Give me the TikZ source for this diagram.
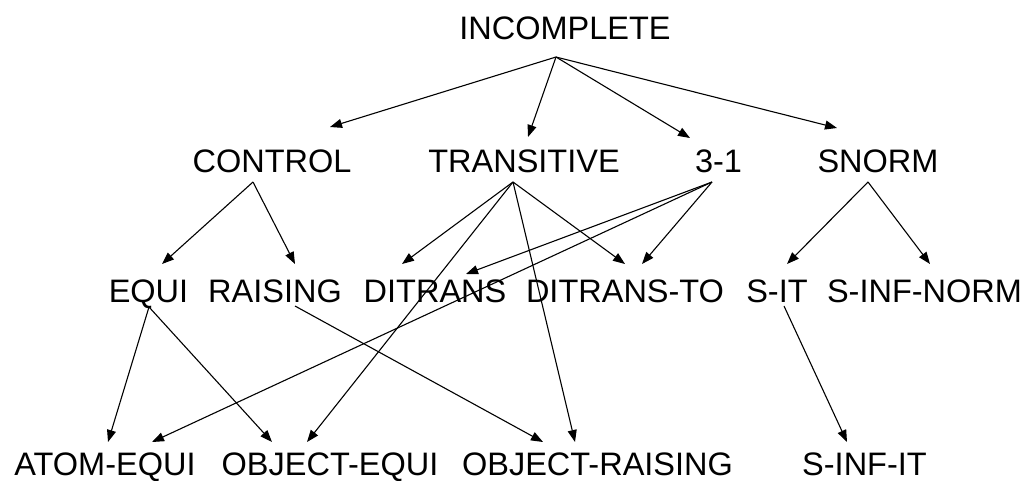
\documentclass[tikz,border=0pt]{standalone}
\usepackage{fontspec}
\setmainfont{Liberation Sans}
\usetikzlibrary{arrows.meta}
\begin{document}
\begin{tikzpicture}[x=1pt,y=-1pt,
  lbl/.style={anchor=base,inner sep=0pt,font=\fontsize{32.5}{34}\selectfont},
  arr/.style={-{Triangle[length=12pt,width=9pt]},line width=1.1pt}]
\useasboundingbox (0,0) rectangle (1027,480);
% level 1
\node[lbl] (incomplete) at (565,39) {INCOMPLETE};
% level 2
\node[lbl] (control) at (272,172) {CONTROL};
\node[lbl] (transitive) at (524,172) {TRANSITIVE};
\node[lbl] (three) at (718.5,172) {3-1};
\node[lbl] (snorm) at (878,172) {SNORM};
% level 3
\node[lbl] (equi) at (148.5,302) {EQUI};
\node[lbl] (raising) at (275,302) {RAISING};
\node[lbl] (ditrans) at (435,302) {DITRANS};
\node[lbl] (ditransto) at (625,302) {DITRANS-TO};
\node[lbl] (sit) at (777,302) {S-IT};
\node[lbl] (sinfnorm) at (924.5,302) {S-INF-NORM};
% level 4
\node[lbl] (atomequi) at (105,475) {ATOM-EQUI};
\node[lbl] (objequi) at (330,475) {OBJECT-EQUI};
\node[lbl] (objraising) at (597.5,475) {OBJECT-RAISING};
\node[lbl] (sinfit) at (864.5,475) {S-INF-IT};
% points where the connectors leave a label
\coordinate (incomplete-o) at (556,57);
\coordinate (control-o) at (253,182);
\coordinate (transitive-o) at (513,182);
\coordinate (three-o) at (712,182);
\coordinate (snorm-o) at (868,182);
\coordinate (equi-o) at (149,307);
\coordinate (raising-o) at (295,306);
\coordinate (sit-o) at (784,306);
% points where the connectors reach a label
\coordinate (control-i) at (330,127);
\coordinate (transitive-i) at (528,137);
\coordinate (three-i) at (690,138);
\coordinate (snorm-i) at (837,128);
\coordinate (equi-i) at (162,264);
\coordinate (raising-i) at (295,264);
\coordinate (ditrans-i1) at (402,264);
\coordinate (ditrans-i2) at (466,274);
\coordinate (ditransto-i1) at (625,264);
\coordinate (ditransto-i2) at (642,264);
\coordinate (sit-i) at (787,264);
\coordinate (sinfnorm-i) at (930,264);
\coordinate (atomequi-i1) at (108,442);
\coordinate (atomequi-i2) at (152,442);
\coordinate (objequi-i1) at (272,442);
\coordinate (objequi-i2) at (307,442);
\coordinate (objraising-i1) at (543,442);
\coordinate (objraising-i2) at (575,442);
\coordinate (sinfit-i) at (847,442);
% connectors
\draw[arr] (incomplete-o) -- (control-i);
\draw[arr] (incomplete-o) -- (transitive-i);
\draw[arr] (incomplete-o) -- (three-i);
\draw[arr] (incomplete-o) -- (snorm-i);
\draw[arr] (control-o) -- (equi-i);
\draw[arr] (control-o) -- (raising-i);
\draw[arr] (transitive-o) -- (ditrans-i1);
\draw[arr] (transitive-o) -- (ditransto-i1);
\draw[arr] (transitive-o) -- (objequi-i2);
\draw[arr] (transitive-o) -- (objraising-i2);
\draw[arr] (three-o) -- (ditrans-i2);
\draw[arr] (three-o) -- (ditransto-i2);
\draw[arr] (three-o) -- (atomequi-i2);
\draw[arr] (snorm-o) -- (sit-i);
\draw[arr] (snorm-o) -- (sinfnorm-i);
\draw[arr] (equi-o) -- (atomequi-i1);
\draw[arr] (equi-o) -- (objequi-i1);
\draw[arr] (raising-o) -- (objraising-i1);
\draw[arr] (sit-o) -- (sinfit-i);
\end{tikzpicture}
\end{document}
